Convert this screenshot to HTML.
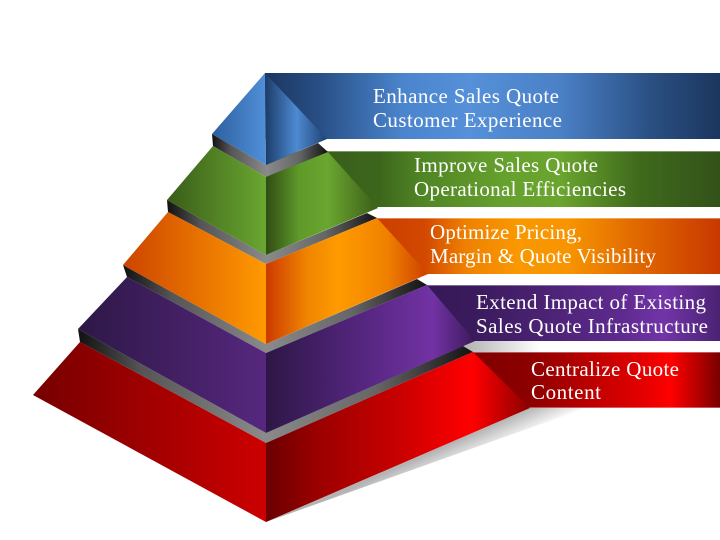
<!DOCTYPE html>
<html><head><meta charset="utf-8"><style>
html,body{margin:0;padding:0;background:#fff;}
svg{display:block;}
text{font-family:"Liberation Serif",serif;font-size:21px;fill:#fff;}
</style></head><body>
<svg width="720" height="540" viewBox="0 0 720 540" xmlns="http://www.w3.org/2000/svg">
<defs>
<linearGradient id="bB" gradientUnits="userSpaceOnUse" x1="265" y1="0" x2="720" y2="0">
<stop offset="0" stop-color="#1b365e"/><stop offset="0.12" stop-color="#284f86"/><stop offset="0.3" stop-color="#4a84cc"/><stop offset="0.45" stop-color="#5590d8"/><stop offset="0.65" stop-color="#4a80c6"/><stop offset="0.85" stop-color="#2a4f82"/><stop offset="1" stop-color="#1b365e"/></linearGradient>
<linearGradient id="bG" gradientUnits="userSpaceOnUse" x1="266" y1="0" x2="720" y2="0">
<stop offset="0" stop-color="#34561a"/><stop offset="0.25" stop-color="#3d661c"/><stop offset="0.34" stop-color="#4f8424"/><stop offset="0.52" stop-color="#66a02e"/><stop offset="0.65" stop-color="#6aa52e"/><stop offset="0.82" stop-color="#3f6a1c"/><stop offset="1" stop-color="#33521a"/></linearGradient>
<linearGradient id="bO" gradientUnits="userSpaceOnUse" x1="376" y1="0" x2="720" y2="0">
<stop offset="0" stop-color="#cc3e00"/><stop offset="0.14" stop-color="#d24800"/><stop offset="0.26" stop-color="#ef8000"/><stop offset="0.41" stop-color="#f99800"/><stop offset="0.56" stop-color="#f79400"/><stop offset="0.76" stop-color="#e06800"/><stop offset="1" stop-color="#c83800"/></linearGradient>
<linearGradient id="bP" gradientUnits="userSpaceOnUse" x1="426" y1="0" x2="720" y2="0">
<stop offset="0" stop-color="#361858"/><stop offset="0.16" stop-color="#3a1a5c"/><stop offset="0.45" stop-color="#4e2478"/><stop offset="0.66" stop-color="#5e2a8e"/><stop offset="0.81" stop-color="#7234a8"/><stop offset="1" stop-color="#4a2272"/></linearGradient>
<linearGradient id="bR" gradientUnits="userSpaceOnUse" x1="472" y1="0" x2="720" y2="0">
<stop offset="0" stop-color="#800000"/><stop offset="0.23" stop-color="#8c0000"/><stop offset="0.5" stop-color="#c00000"/><stop offset="0.71" stop-color="#e80000"/><stop offset="0.8" stop-color="#ff0000"/><stop offset="0.92" stop-color="#b00000"/><stop offset="1" stop-color="#780000"/></linearGradient>

<linearGradient id="fBL" gradientUnits="userSpaceOnUse" x1="212" y1="0" x2="266" y2="0"><stop offset="0" stop-color="#2e5f9f"/><stop offset="1" stop-color="#5090d8"/></linearGradient>
<linearGradient id="fBR" gradientUnits="userSpaceOnUse" x1="266" y1="0" x2="327" y2="0"><stop offset="0" stop-color="#1d3e6c"/><stop offset="0.5" stop-color="#4e8ad2"/><stop offset="1" stop-color="#1f4170"/></linearGradient>
<linearGradient id="fGL" gradientUnits="userSpaceOnUse" x1="167" y1="0" x2="266" y2="0"><stop offset="0" stop-color="#395c19"/><stop offset="1" stop-color="#6aa730"/></linearGradient>
<linearGradient id="fGR" gradientUnits="userSpaceOnUse" x1="266" y1="0" x2="378" y2="0"><stop offset="0" stop-color="#2f4d12"/><stop offset="0.3" stop-color="#5f9a2a"/><stop offset="0.55" stop-color="#6aa630"/><stop offset="1" stop-color="#3b5d18"/></linearGradient>
<linearGradient id="fOL" gradientUnits="userSpaceOnUse" x1="123" y1="0" x2="266" y2="0"><stop offset="0" stop-color="#cc4400"/><stop offset="1" stop-color="#ff9a00"/></linearGradient>
<linearGradient id="fOR" gradientUnits="userSpaceOnUse" x1="266" y1="0" x2="428" y2="0"><stop offset="0" stop-color="#cc3a00"/><stop offset="0.25" stop-color="#f08400"/><stop offset="0.45" stop-color="#ff9b00"/><stop offset="0.75" stop-color="#f08000"/><stop offset="1" stop-color="#cc4000"/></linearGradient>
<linearGradient id="fPL" gradientUnits="userSpaceOnUse" x1="78" y1="0" x2="266" y2="0"><stop offset="0" stop-color="#2d1846"/><stop offset="1" stop-color="#56277e"/></linearGradient>
<linearGradient id="fPR" gradientUnits="userSpaceOnUse" x1="266" y1="0" x2="475" y2="0"><stop offset="0" stop-color="#2d1746"/><stop offset="0.4" stop-color="#502478"/><stop offset="0.8" stop-color="#7232a4"/><stop offset="1" stop-color="#3a1a5a"/></linearGradient>
<linearGradient id="fRL" gradientUnits="userSpaceOnUse" x1="33" y1="0" x2="266" y2="0"><stop offset="0" stop-color="#760000"/><stop offset="1" stop-color="#cc0000"/></linearGradient>
<linearGradient id="fRR" gradientUnits="userSpaceOnUse" x1="266" y1="0" x2="530" y2="0"><stop offset="0" stop-color="#6a0000"/><stop offset="0.2" stop-color="#9c0000"/><stop offset="0.5" stop-color="#c80000"/><stop offset="0.78" stop-color="#ff0000"/><stop offset="1" stop-color="#8c0000"/></linearGradient>

<linearGradient id="gG" gradientUnits="userSpaceOnUse" x1="212" y1="0" x2="328" y2="0"><stop offset="0" stop-color="#111"/><stop offset="0.16" stop-color="#555"/><stop offset="0.47" stop-color="#8a8a8a"/><stop offset="0.75" stop-color="#666"/><stop offset="1" stop-color="#111"/></linearGradient>
<linearGradient id="gO" gradientUnits="userSpaceOnUse" x1="167" y1="0" x2="378" y2="0"><stop offset="0" stop-color="#111"/><stop offset="0.16" stop-color="#555"/><stop offset="0.47" stop-color="#8a8a8a"/><stop offset="0.75" stop-color="#666"/><stop offset="1" stop-color="#111"/></linearGradient>
<linearGradient id="gP" gradientUnits="userSpaceOnUse" x1="123" y1="0" x2="428" y2="0"><stop offset="0" stop-color="#111"/><stop offset="0.16" stop-color="#555"/><stop offset="0.47" stop-color="#8a8a8a"/><stop offset="0.75" stop-color="#666"/><stop offset="1" stop-color="#111"/></linearGradient>
<linearGradient id="gR" gradientUnits="userSpaceOnUse" x1="78" y1="0" x2="475" y2="0"><stop offset="0" stop-color="#111"/><stop offset="0.16" stop-color="#555"/><stop offset="0.47" stop-color="#8a8a8a"/><stop offset="0.75" stop-color="#666"/><stop offset="1" stop-color="#111"/></linearGradient>

<linearGradient id="sh1" gradientUnits="userSpaceOnUse" x1="500" y1="421" x2="510" y2="443"><stop offset="0" stop-color="#b4b4b4"/><stop offset="1" stop-color="#ffffff"/></linearGradient>
<linearGradient id="sh2" gradientUnits="userSpaceOnUse" x1="470" y1="0" x2="540" y2="0"><stop offset="0" stop-color="#b8b8b8"/><stop offset="1" stop-color="#ffffff"/></linearGradient>
</defs>

<rect width="720" height="540" fill="#fff"/>

<!-- banners -->
<rect x="265" y="73" width="455" height="66" fill="url(#bB)"/>
<rect x="266" y="151" width="454" height="56" fill="url(#bG)"/>
<rect x="376" y="218" width="344" height="56" fill="url(#bO)"/>
<rect x="426" y="285" width="294" height="56" fill="url(#bP)"/>
<rect x="472" y="352" width="248" height="56" fill="url(#bR)"/>
<g stroke="#fff" stroke-opacity="0.35" stroke-width="1">
<line x1="266" y1="151.5" x2="720" y2="151.5"/><line x1="376" y1="218.5" x2="720" y2="218.5"/>
<line x1="426" y1="285.5" x2="720" y2="285.5"/><line x1="472" y1="352.5" x2="720" y2="352.5"/>
<line x1="472" y1="407.5" x2="720" y2="407.5"/>
</g>

<!-- shadows -->
<polygon points="463,341 545,341 545,352 463,352" fill="url(#sh2)"/>
<polygon points="266,522 530,408 586,408" fill="url(#sh1)"/>

<!-- red tier -->
<polygon points="78,329 266,433 463,346 473,352 266,443 80,342" fill="url(#gR)"/>
<polygon points="80,342 266,443 266,522 33,395" fill="url(#fRL)"/>
<polygon points="266,443 473,352 530,408 266,522" fill="url(#fRR)"/>

<!-- purple tier -->
<polygon points="123,265 266,344 417,279 427,285 266,353 127,277" fill="url(#gP)"/>
<polygon points="127,277 266,353 266,433 78,329" fill="url(#fPL)"/>
<polygon points="266,353 427,285 475,341 266,433" fill="url(#fPR)"/>

<!-- orange tier -->
<polygon points="167,200 266,255 367,213 377,218 266,264 168,212" fill="url(#gO)"/>
<polygon points="168,212 266,264 266,344 123,265" fill="url(#fOL)"/>
<polygon points="266,264 377,218 428,274 266,344" fill="url(#fOR)"/>

<!-- green tier -->
<polygon points="212,134 266,165 318,143 328,152 266,177 213,146" fill="url(#gG)"/>
<polygon points="213,146 266,177 266,255 167,200" fill="url(#fGL)"/>
<polygon points="266,177 328,152 378,208 266,255" fill="url(#fGR)"/>

<!-- blue tier -->
<polygon points="265,73 266,165 212,134" fill="url(#fBL)"/>
<polygon points="265,73 327,139 266,165" fill="url(#fBR)"/>

<!-- labels -->
<text x="373" y="103" textLength="186" lengthAdjust="spacing">Enhance Sales Quote</text>
<text x="373" y="127" textLength="189" lengthAdjust="spacing">Customer Experience</text>
<text x="414" y="172" textLength="184" lengthAdjust="spacing">Improve Sales Quote</text>
<text x="414" y="196" textLength="212" lengthAdjust="spacing">Operational Efficiencies</text>
<text x="430" y="239" textLength="152" lengthAdjust="spacing">Optimize Pricing,</text>
<text x="430" y="263" textLength="226" lengthAdjust="spacing">Margin &amp; Quote Visibility</text>
<text x="476" y="309" textLength="230" lengthAdjust="spacing">Extend Impact of Existing</text>
<text x="476" y="333" textLength="232" lengthAdjust="spacing">Sales Quote Infrastructure</text>
<text x="531" y="376" textLength="148" lengthAdjust="spacing">Centralize Quote</text>
<text x="531" y="399" textLength="70" lengthAdjust="spacing">Content</text>
</svg>
</body></html>
